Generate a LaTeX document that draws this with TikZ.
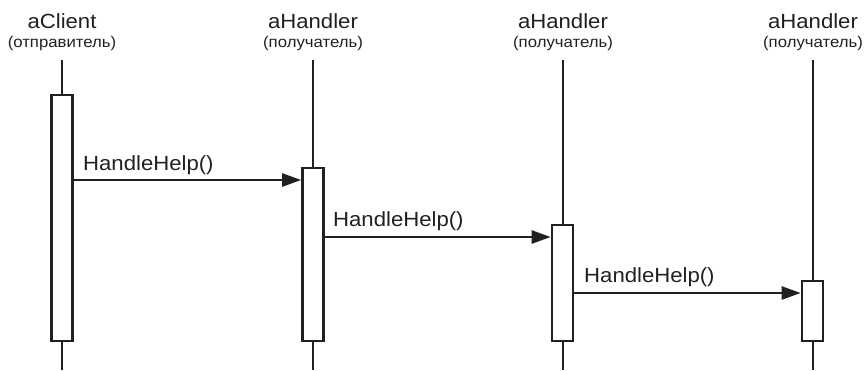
\documentclass[tikz,border=0pt]{standalone}
\usepackage{fontspec}
\setmainfont{Liberation Sans}
\newfontfamily\widesans[FakeStretch=1.08]{Liberation Sans}
\usetikzlibrary{arrows.meta}
\definecolor{ink}{HTML}{231F20}
\begin{document}
\begin{tikzpicture}[x=1pt,y=-1pt,
  title/.style={anchor=base,inner sep=0pt,text=ink,font=\widesans\fontsize{20.5}{24}\selectfont},
  role/.style={anchor=base,inner sep=0pt,text=ink,font=\widesans\fontsize{15.5}{18}\selectfont},
  lifeline/.style={draw=ink,line width=2.3pt},
  actbox/.style={draw=ink,fill=white,line width=2.6pt,minimum width=21pt,inner sep=0pt,anchor=north},
  msg/.style={draw=ink,line width=2.5pt,-{Triangle[length=19pt,width=13pt]}},
  msglabel/.style={anchor=base west,inner sep=0pt,text=ink,font=\widesans\fontsize{20.5}{24}\selectfont}]
\useasboundingbox (0,0) rectangle (864,370);
% headers
\node[title] (t0) at (62,28) {aClient};
\node[role]  (r0) at (62,47) {(отправитель)};
\node[title] (t1) at (313,28) {aHandler};
\node[role]  (r1) at (313,47) {(получатель)};
\node[title] (t2) at (563,28) {aHandler};
\node[role]  (r2) at (563,47) {(получатель)};
\node[title] (t3) at (813,28) {aHandler};
\node[role]  (r3) at (813,47) {(получатель)};
% lifelines
\coordinate (l0top) at (62,60);  \coordinate (l0bot) at (62,370);
\coordinate (l1top) at (313,60); \coordinate (l1bot) at (313,370);
\coordinate (l2top) at (563,60); \coordinate (l2bot) at (563,370);
\coordinate (l3top) at (813,60); \coordinate (l3bot) at (813,370);
\draw[lifeline] (l0top) -- (l0bot);
\draw[lifeline] (l1top) -- (l1bot);
\draw[lifeline] (l2top) -- (l2bot);
\draw[lifeline] (l3top) -- (l3bot);
% activation boxes
\node[actbox,minimum height=246pt] (b0) at (62,93.5) {};
\node[actbox,minimum height=173pt] (b1) at (313,166.5) {};
\node[actbox,minimum height=116pt] (b2) at (562.5,223.5) {};
\node[actbox,minimum height=60pt]  (b3) at (812.5,279.5) {};
% messages
\coordinate (m1) at (0,180);
\coordinate (m2) at (0,237);
\coordinate (m3) at (0,293);
\draw[msg] (b0.east |- m1) -- (b1.west |- m1);
\draw[msg] (b1.east |- m2) -- (b2.west |- m2);
\draw[msg] (b2.east |- m3) -- (b3.west |- m3);
\node[msglabel] (h1) at (83,170) {HandleHelp()};
\node[msglabel] (h2) at (333,226) {HandleHelp()};
\node[msglabel] (h3) at (584,282) {HandleHelp()};
\end{tikzpicture}
\end{document}
